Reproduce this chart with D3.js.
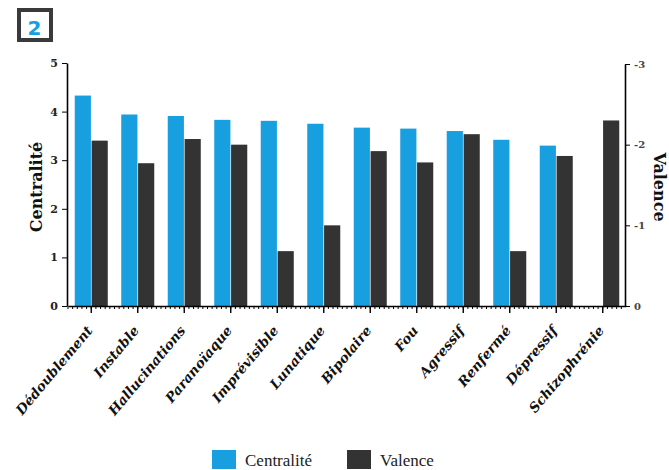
<!DOCTYPE html>
<html>
<head>
<meta charset="utf-8">
<script src="https://cdnjs.cloudflare.com/ajax/libs/d3/7.8.5/d3.min.js"></script>
<style>
  body { margin: 0; background: #fff; }
  svg { display: block; }
</style>
</head>
<body>
<div id="chart"></div>
<script>
// data
var categories = ["Dédoublement", "Instable", "Hallucinations", "Paranoïaque", "Imprévisible",
  "Lunatique", "Bipolaire", "Fou", "Agressif", "Renfermé", "Dépressif", "Schizophrénie"];
var centralite = [4.33, 3.94, 3.91, 3.83, 3.81, 3.75, 3.67, 3.65, 3.60, 3.42, 3.30, 0];
var valence = [-2.05, -1.77, -2.07, -2.00, -0.68, -1.00, -1.92, -1.78, -2.13, -0.68, -1.86, -2.30];
var leftTicks = [0, 1, 2, 3, 4, 5];
var rightTicks = [0, -1, -2, -3];
var series = ["Centralité", "Valence"];

var blue = "#189fe0", dark = "#333333";

var svg = d3.select("#chart").append("svg")
  .attr("width", 669).attr("height", 470);

var x = d3.scaleBand().domain(categories).range([68, 626])
  .paddingInner(0.29).paddingOuter(0.145);
var xs = d3.scaleBand().domain(series).range([0, x.bandwidth()]).paddingInner(0.04);
var yL = d3.scaleLinear().domain([0, 5]).range([306, 63]);
var yR = d3.scaleLinear().domain([0, -3]).range([306, 64]);

// bars
var g = svg.append("g");
categories.forEach(function(c, i) {
  if (centralite[i] > 0) {
    g.append("rect")
      .attr("x", x(c) + xs("Centralité")).attr("width", xs.bandwidth())
      .attr("y", yL(centralite[i])).attr("height", yL(0) - yL(centralite[i]))
      .attr("fill", blue);
  }
  g.append("rect")
    .attr("x", x(c) + xs("Valence")).attr("width", xs.bandwidth())
    .attr("y", yR(valence[i])).attr("height", yR(0) - yR(valence[i]))
    .attr("fill", dark);
});

// minor ticks on x axis
var minor = d3.range(68, 626, x.step() / 10);
svg.append("g").selectAll("line").data(minor).enter().append("line")
  .attr("x1", d => d).attr("x2", d => d)
  .attr("y1", 306).attr("y2", 309)
  .attr("stroke", "#000").attr("stroke-width", 1);

// axes
var ax = svg.append("g").attr("transform", "translate(0,306)")
  .call(d3.axisBottom(x).tickSize(7).tickSizeOuter(0).tickFormat(""));
ax.select(".domain").attr("stroke-width", 1.6);
ax.selectAll(".tick line").attr("stroke-width", 1.4);

var al = svg.append("g").attr("transform", "translate(67,0)")
  .call(d3.axisLeft(yL).tickValues(leftTicks).tickSize(5).tickSizeOuter(0).tickPadding(4)
    .tickFormat(d3.format("d")));
al.select(".domain").attr("stroke-width", 1.6);
al.selectAll("text").attr("font-family", "DejaVu Serif").attr("font-weight", "bold")
  .attr("font-size", 11).attr("fill", "#222");

var ar = svg.append("g").attr("transform", "translate(625,0)")
  .call(d3.axisRight(yR).tickValues(rightTicks).tickSize(5).tickSizeOuter(0).tickPadding(4)
    .tickFormat(d => String(d)));
ar.select(".domain").attr("stroke-width", 1.6);
ar.selectAll("text").attr("font-family", "DejaVu Serif").attr("font-weight", "bold")
  .attr("font-size", 10).attr("fill", "#444");

// category labels
svg.append("g").selectAll("text").data(categories).enter().append("text")
  .attr("transform", d => "translate(" + (x(d) + x.bandwidth() / 2 + 2) + ",331) rotate(-50)")
  .attr("text-anchor", "end")
  .attr("font-family", "DejaVu Serif").attr("font-weight", "bold").attr("font-style", "italic")
  .attr("font-size", 13.5).attr("fill", "#111")
  .text(d => d);

// axis titles
svg.append("text").attr("transform", "translate(42,187) rotate(-90)")
  .attr("text-anchor", "middle").attr("font-family", "DejaVu Serif").attr("font-weight", "bold")
  .attr("font-size", 16).attr("fill", "#111").text("Centralité");
svg.append("text").attr("transform", "translate(654,187) rotate(90)")
  .attr("text-anchor", "middle").attr("font-family", "DejaVu Serif").attr("font-weight", "bold")
  .attr("font-size", 16).attr("fill", "#111").text("Valence");

// legend
var lg = svg.append("g");
[[212, blue, "Centralité"], [347, dark, "Valence"]].forEach(function(l) {
  lg.append("rect").attr("x", l[0]).attr("y", 450).attr("width", 24).attr("height", 19).attr("fill", l[1]);
  lg.append("text").attr("x", l[0] + 33).attr("y", 466)
    .attr("font-family", "'Liberation Serif', serif").attr("font-size", 17).attr("fill", "#222").text(l[2]);
});

// panel badge
svg.append("rect").attr("x", 19).attr("y", 10).attr("width", 32).attr("height", 30)
  .attr("fill", "#fff").attr("stroke", "#3a3a3a").attr("stroke-width", 4);
svg.append("text").attr("x", 34.5).attr("y", 35).attr("text-anchor", "middle")
  .attr("font-family", "DejaVu Sans").attr("font-weight", 600).attr("font-size", 20)
  .attr("fill", blue).text("2");
</script>
</body>
</html>
